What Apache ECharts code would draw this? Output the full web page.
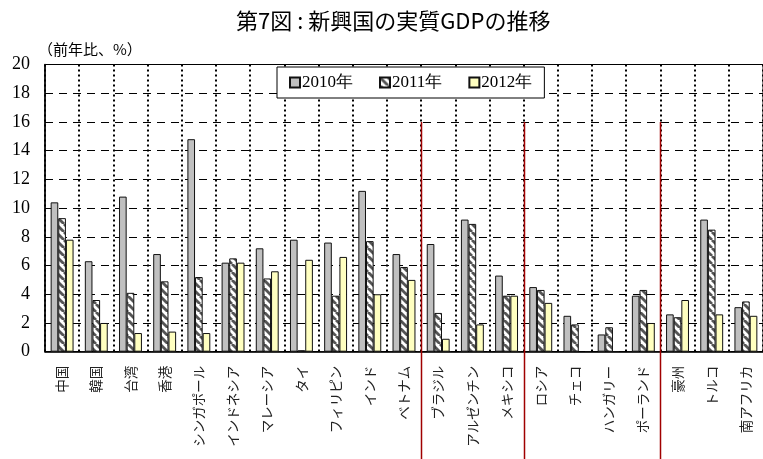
<!DOCTYPE html>
<html>
<head>
<meta charset="utf-8">
<script src="https://cdn.jsdelivr.net/npm/echarts@6/dist/echarts.min.js"></script>
<style>
  html, body { margin: 0; padding: 0; background: #fff; }
  #chart { width: 763px; height: 459px; }
</style>
</head>
<body>
<div id="chart"></div>
<script>
// 新興国の実質GDP成長率（前年比、%）
const countries = [
  "中国", "韓国", "台湾", "香港", "シンガポール", "インドネシア", "マレーシア",
  "タイ", "フィリピン", "インド", "ベトナム", "ブラジル", "アルゼンチン", "メキシコ",
  "ロシア", "チェコ", "ハンガリー", "ポーランド", "豪州", "トルコ", "南アフリカ"
];
const y2010 = [10.4, 6.3, 10.8, 6.8, 14.8, 6.2, 7.2, 7.8, 7.6, 11.2, 6.8, 7.5, 9.2, 5.3,
  4.5, 2.5, 1.2, 3.9, 2.6, 9.2, 3.1];
const y2011 = [9.3, 3.6, 4.1, 4.9, 5.2, 6.5, 5.1, 0.1, 3.9, 7.7, 5.9, 2.7, 8.9, 3.9,
  4.3, 1.9, 1.7, 4.3, 2.4, 8.5, 3.5];
const y2012 = [7.8, 2.0, 1.3, 1.4, 1.3, 6.2, 5.6, 6.4, 6.6, 4.0, 5.0, 0.9, 1.9, 3.9,
  3.4, null, null, 2.0, 3.6, 2.6, 2.5];
const seriesNames = ["2010年", "2011年", "2012年"];
const yTicks = { min: 0, max: 20, interval: 2 };
// red separators sit just before these regions
const groupStarts = ["ブラジル", "ロシア", "豪州"];

const chart = echarts.init(document.getElementById("chart"));

// hatch pattern for 2011
const hatch = document.createElement("canvas");
hatch.width = 8;
hatch.height = 8;
const hc = hatch.getContext("2d");
hc.fillStyle = "#fff";
hc.fillRect(0, 0, 8, 8);
hc.strokeStyle = "#555";
hc.lineWidth = 2.8;
[-8, 0, 8].forEach((o) => {
  hc.beginPath();
  hc.moveTo(o, 0);
  hc.lineTo(o + 8, 8);
  hc.stroke();
});

const serif = "Liberation Serif";
const fills = ["#c0c0c0", { image: hatch, repeat: "repeat" }, "#ffffc0"];
const datasets = [y2010, y2011, y2012];

const option = {
  animation: false,
  backgroundColor: "#fff",
  title: {
    text: "第7図 : 新興国の実質GDPの推移",
    left: 231,
    top: 5,
    textStyle: {
      fontFamily: "Noto Sans CJK JP",
      fontSize: 22,
      fontWeight: "normal",
      color: "#000",
    },
  },
  legend: {
    left: 277,
    top: 67,
    padding: [7, 12, 7, 12],
    itemGap: 26,
    itemWidth: 10,
    itemHeight: 10,
    icon: "rect",
    borderColor: "#000",
    borderWidth: 1,
    backgroundColor: "#fff",
    textStyle: { fontFamily: serif, fontSize: 17, color: "#000", padding: [0, 0, 0, -3] },
    data: seriesNames,
  },
  grid: {
    left: 45,
    top: 64.5,
    width: 724.5,
    height: 287.2,
    show: true,
    borderColor: "#000",
    borderWidth: 1,
    backgroundColor: "transparent",
  },
  xAxis: {
    type: "category",
    data: countries,
    axisLine: { lineStyle: { color: "#000", width: 1.5 } },
    axisTick: { show: false },
    axisLabel: {
      interval: 0,
      rotate: 90,
      margin: 14,
      fontFamily: "Noto Sans CJK JP",
      fontSize: 13.5,
      color: "#222",
    },
    splitLine: {
      show: true,
      interval: 0,
      lineStyle: { color: "#000", width: 2, type: [2, 3] },
    },
  },
  yAxis: {
    type: "value",
    min: yTicks.min,
    max: yTicks.max,
    interval: yTicks.interval,
    axisLine: { show: true, lineStyle: { color: "#000", width: 1.5 } },
    axisTick: { show: false },
    axisLabel: { fontFamily: serif, fontSize: 18, color: "#000", margin: 15 },
    splitLine: { lineStyle: { color: "#000", width: 1, type: [8, 6] } },
  },
  series: seriesNames.map((name, i) => ({
    name: name,
    type: "bar",
    data: datasets[i],
    barGap: "0%",
    barCategoryGap: "33%",
    itemStyle: { color: fills[i], borderColor: "#111", borderWidth: 1 },
  })),
};

chart.setOption(option);

// red separators between regions, from 16 down past the labels
const topY = chart.convertToPixel({ yAxisIndex: 0 }, 16);
const lines = groupStarts.map((c) => {
  const idx = countries.indexOf(c);
  const a = chart.convertToPixel({ xAxisIndex: 0 }, countries[idx - 1]);
  const b = chart.convertToPixel({ xAxisIndex: 0 }, countries[idx]);
  const x = Math.round((a + b) / 2) + 0.5;
  return {
    type: "line",
    z: 100,
    shape: { x1: x, y1: topY, x2: x, y2: 459 },
    style: { stroke: "#a00000", lineWidth: 1.5 },
  };
});
lines.push({
  type: "text",
  left: 38,
  top: 42,
  style: {
    text: "（前年比、%）",
    font: "15px 'Noto Sans CJK JP'",
    fill: "#000",
  },
});
chart.setOption({ graphic: lines });
</script>
</body>
</html>
